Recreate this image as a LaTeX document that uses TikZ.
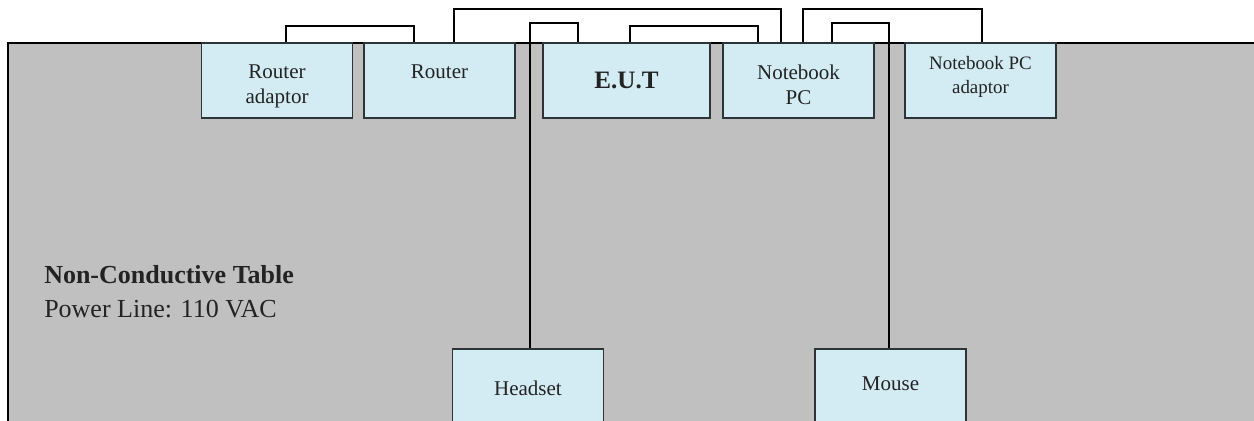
\documentclass[tikz,border=0pt]{standalone}
\usepackage{fontspec}
\setmainfont{Liberation Serif}
\usetikzlibrary{calc}

\definecolor{tablegray}{RGB}{192,192,192}
\definecolor{boxfill}{RGB}{211,236,243}
\definecolor{boxline}{RGB}{45,52,56}
\definecolor{inktext}{RGB}{35,35,35}

\begin{document}
\begin{tikzpicture}[x=0.75pt, y=-0.75pt,
    box/.style={draw=boxline, line width=1.1pt, fill=boxfill, minimum width=113.25pt, minimum height=56.25pt, inner sep=0pt},
    boxtext/.style={anchor=north, align=center, inner sep=0pt, text=inktext, font=\fontsize{15.75}{18.9}\selectfont},
    smalltext/.style={boxtext, font=\fontsize{14.2}{18.5}\selectfont},
    cable/.style={line width=1.5pt, black},
]
\useasboundingbox (0,0) rectangle (1254,421);
\clip (0,0) rectangle (1254,421);

% Table
\fill[tablegray] (8,43) rectangle (1260,430);
\draw[line width=1.6pt] (8,430) -- (8,43) -- (1260,43);
\node[anchor=base west, inner sep=0pt, text=inktext, font=\fontsize{19.5}{23}\selectfont\bfseries] (tabletitle) at (44,283) {Non-Conductive Table};
\node[anchor=base west, inner sep=0pt, text=inktext, font=\fontsize{19.5}{23}\selectfont] (powerline) at (44,317) {Power Line: 110 VAC};

% Devices on the table edge
\node[box, label={[boxtext, yshift=-16.5pt]north:Router\\adaptor}] (radapt) at (277,80.5) {};
\node[box, label={[boxtext, yshift=-16.5pt]north:Router}] (router) at (439.5,80.5) {};
\node[box, minimum width=125.25pt, label={[boxtext, yshift=-22.5pt, font=\fontsize{18.8}{22}\selectfont\bfseries]north:E.U.T}] (eut) at (626.5,80.5) {};
\node[box, label={[boxtext, yshift=-16.5pt]north:Notebook\\PC}] (npc) at (798.5,80.5) {};
\node[box, label={[smalltext, yshift=-10pt]north:Notebook PC\\adaptor}] (npcadapt) at (980.5,80.5) {};

% Peripherals
\node[box, label={[boxtext, yshift=-24.5pt]north:Headset}] (headset) at (528,386.5) {};
\node[box, label={[boxtext, yshift=-21.5pt]north:Mouse}] (mouse) at (890.5,386.5) {};

% Cables
\draw[cable] ($(radapt.north)+(9,0)$) -- ++(0,-16) -| ($(router.north)+(-25.5,0)$);
\draw[cable] ($(router.north)+(14.5,0)$) -- ++(0,-33) -| ($(npc.north)+(-17.5,0)$);
\draw[cable] ($(headset.north)+(1.5,0)$) |- ($(eut.north)+(-48.5,-19)$) -- ($(eut.north)+(-48.5,0)$);
\draw[cable] ($(eut.north)+(3.5,0)$) -- ++(0,-16) -| ($(npc.north)+(-40.5,0)$);
\draw[cable] ($(npc.north)+(4.5,0)$) -- ++(0,-33) -| ($(npcadapt.north)+(1.5,0)$);
\draw[cable] ($(mouse.north)+(-1.5,0)$) |- ($(npc.north)+(33.5,-19)$) -- ($(npc.north)+(33.5,0)$);

\end{tikzpicture}
\end{document}
